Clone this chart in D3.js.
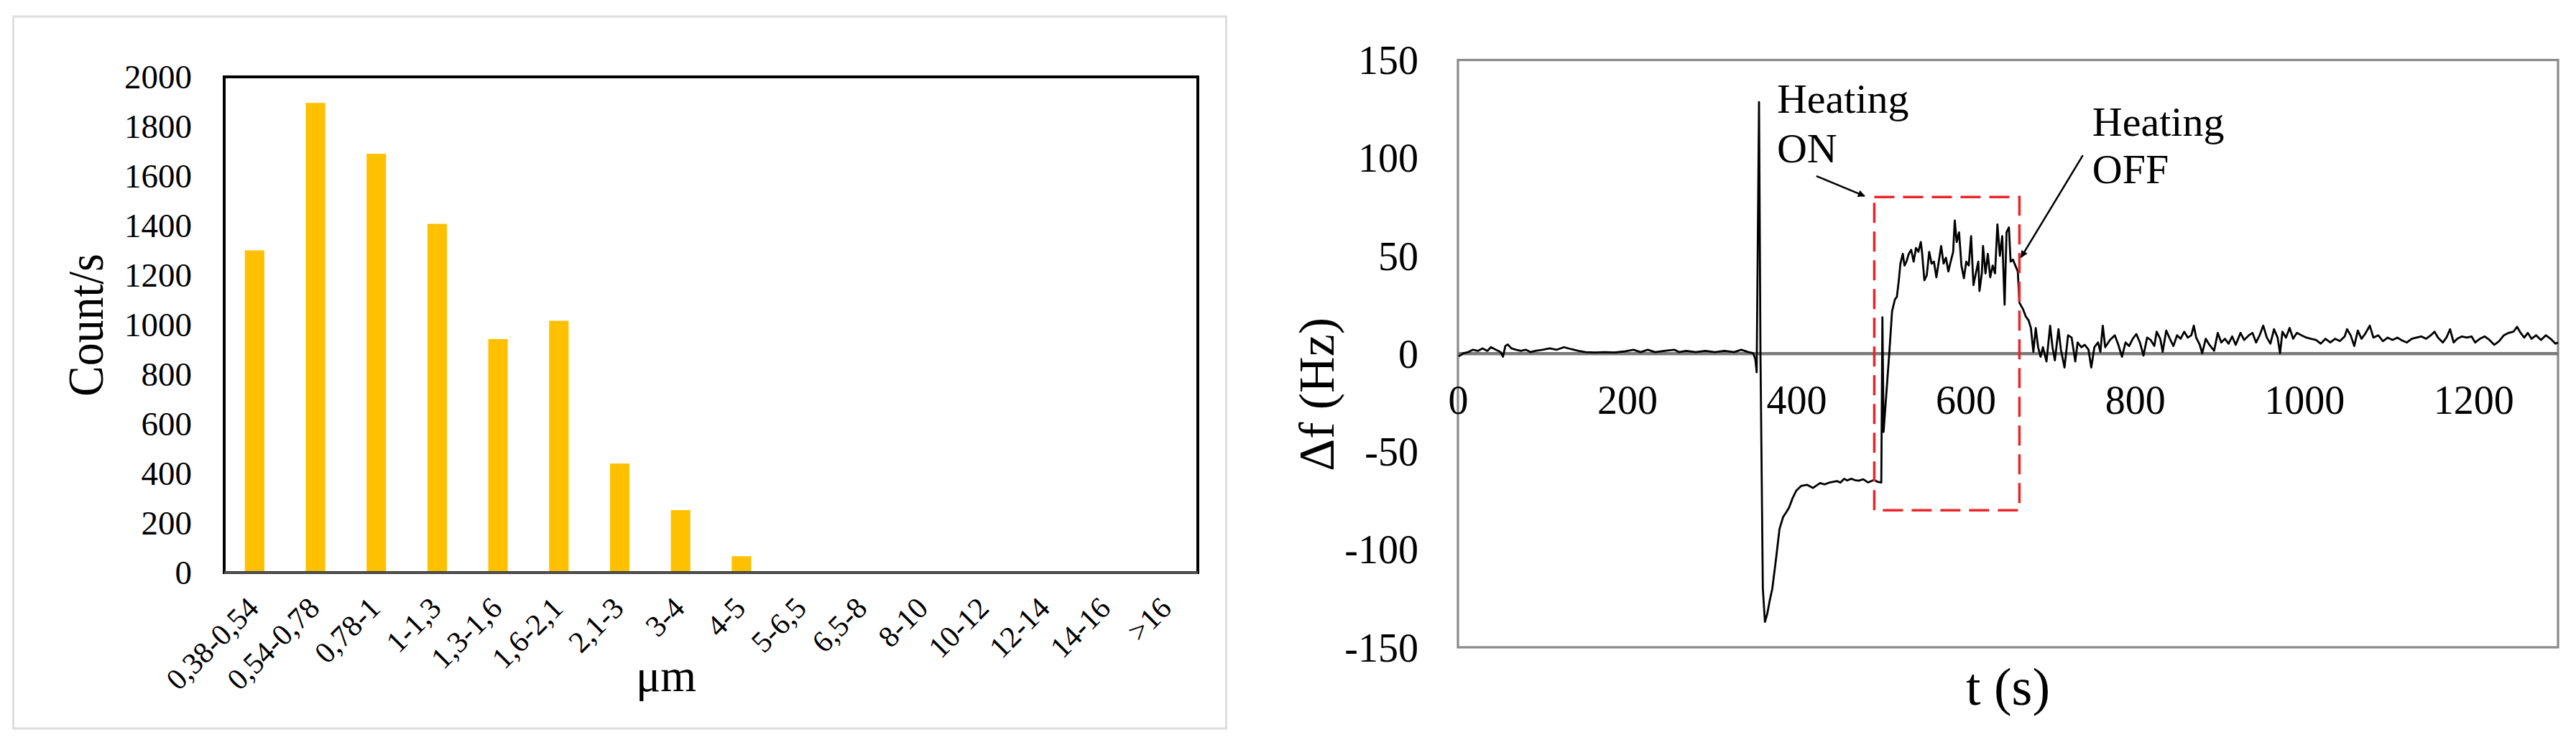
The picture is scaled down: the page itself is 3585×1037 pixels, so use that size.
<!DOCTYPE html>
<html>
<head>
<meta charset="utf-8">
<script src="https://cdn.jsdelivr.net/npm/d3@7"></script>
<style>
  html, body { margin: 0; padding: 0; background: #ffffff; }
  svg { display: block; }
  text { font-family: "Liberation Serif", "Times New Roman", serif; fill: #000; }
</style>
</head>
<body>
<svg id="chart" width="3585" height="1037"></svg>
<script>
// ---------------- DATA ----------------
// Left panel: particle size distribution
const sizeCategories = ["0,38-0,54","0,54-0,78","0,78-1","1-1,3","1,3-1,6","1,6-2,1","2,1-3","3-4","4-5","5-6,5","6,5-8","8-10","10-12","12-14","14-16",">16"];
const countValues = [1300,1895,1690,1407,942,1016,440,252,66,0,0,0,0,0,0,0];
const countTicks = [0,200,400,600,800,1000,1200,1400,1600,1800,2000];

// Right panel: frequency shift vs time
const timeValues = [
  0.8,6.5,12.2,17.8,23.5,29.1,34.8,39,44.7,50.4,53.2,56,58.9,63.1,68.8,74.4,80.1,85.7,91.4,99.9,
  108.4,116.8,125.3,133.8,142.3,150.8,162.1,173.5,184.8,196.1,207.4,215.9,224.4,232.9,244.2,255.5,261.2,269.7,281,292.3,
  303.7,315,326.3,334.8,343.3,349,351.5,353,355.8,357.5,360.3,362.8,365.5,368.5,371.5,375.7,380,384.2,388,391.3,
  395.6,399.8,405.5,412.5,419.6,428,433,439.4,447.9,452,456.4,460,464.9,469,473.4,479,484.7,491.8,496,500.3,
  501.6,503,506,510,513,516.4,518.7,521,522.9,525.7,527.7,530,532.8,535.6,538.5,541.3,544.1,547,548.4,551.2,
  554,556.9,559.7,562.5,565.4,568.2,571,573.9,576.7,579.5,582.3,585.2,587.1,589.4,592.2,595,597.9,600.7,603.6,606.4,
  609.2,612,614.9,616.3,619.1,620.5,623.4,626.2,629,631.9,634.7,637.5,640.4,643.2,646,648.3,651.1,653.1,655.9,658.7,
  661.6,663.5,668,671,674.3,677.1,680,682.8,685.6,688.5,691.3,695.5,699.8,702.6,705.4,709.7,712.5,716.8,721,725.2,
  729.5,732.3,736.6,740.8,745.1,748.4,752.1,756.4,759.2,762,764.9,770.5,776.2,780.4,784.7,788.9,793.2,797.4,801.7,805.9,
  810.1,814.4,818.6,822.9,825.7,829.9,832.8,837,841.3,845.5,849.8,854,858.3,862.5,866.7,869.6,872.4,876.6,879.5,883.7,
  888,893.6,897.9,902.1,906.4,910.6,914.9,919.1,924.8,929,934.7,938.9,943.2,947.4,951.6,955.9,960.1,964.4,968.6,971.5,
  974.3,978.5,982.8,987,991.3,996.9,1002.6,1008.2,1013.9,1019.6,1025.2,1030.9,1036.5,1042.2,1047.9,1050.7,1054.9,1059.2,1063.4,1067.7,
  1071.9,1077.6,1081.8,1087.5,1093.1,1098.8,1104.4,1110.1,1115.8,1121.4,1127.1,1132.7,1138.4,1144,1149.7,1154,1158.2,1163.9,1168.1,1172.4,
  1176.6,1180.9,1186.5,1192.2,1197.8,1202.1,1207.7,1213.4,1219,1224.7,1230.4,1236,1241.7,1247.3,1251.6,1255.8,1260.1,1264.3,1268.6,1274.2,
  1279.9,1285.5,1291.2,1296.9,1300
];
const deltaFValues = [
  -1.4,0.2,0.8,2,1.4,2.7,1.4,3.3,2,0.8,-1.6,3.9,4.7,2.7,2,1.4,2,0.8,1.4,2,
  2.7,2,3.3,2.3,1.4,0.8,0.6,0.8,0.6,1.1,2,0.8,2,0.8,1.4,2,0.8,1.4,0.8,1.4,
  0.8,1.4,0.8,2,0.8,0.2,-3,-9.5,128.5,0,-120,-137,-133,-126,-120,-105.5,-89.6,-83.5,-81,-78.6,
  -73.7,-70,-67.6,-67,-68.6,-66.1,-66.8,-65.8,-65.1,-65.9,-63.9,-64.8,-63.9,-64.6,-64.9,-64.2,-65.8,-64.5,-65.5,-65.8,
  18.6,-40,-22,2,21.6,27.7,29,37.5,46,51,45,47,51,53,47,54,52,57,52,37.5,
  40,52,46,47,39,47,55,46,49,42,47,52,68,57,62,45,38.5,47,45,60,
  35,41,47,32,41,55,41,51,39,45,41,66,50,60,25,62,64.5,47,48,45,
  42,26,22.5,19,17,13.1,0.9,13.1,3.3,-1.6,3.3,-4,14.3,3.3,-3.4,12.5,2.1,-7.1,9.4,8.2,
  -4,5.7,3.3,4.5,2.1,-7.1,3.3,5.7,0.9,14.3,3.3,7,9.4,4.5,-1.6,5.7,3.9,7.6,10,5.7,
  -1,8.2,7,3.9,11.2,7.6,0.9,11.8,7.6,3.9,9.4,7.6,11.2,8.2,9.4,14.3,8.2,4.5,0.2,7.6,
  4.5,1.5,10.6,5.7,7.6,5.1,8.8,4.5,10.6,7,9.4,10.6,5.7,9.4,14.3,8.2,5.1,12.5,8.2,0.2,
  11.2,8.2,13.1,7.6,10.6,9.4,8.2,7.6,7,5.1,7.6,5.7,7.6,6.4,8.8,12.5,9.4,3.9,11.8,7.6,
  10,14.3,8.2,9.4,6.4,8.2,7,8.2,6.7,5.7,7.6,8.2,8.8,7.6,9.4,11.2,8.2,5.7,8.2,12.5,
  5.7,7.6,8.8,8.2,8.8,5.7,7.6,8.8,7,4.5,6.4,9.4,10.6,11.2,13.7,10.6,8.2,10.6,7.6,9.4,
  7,9.4,7.6,5.1,5.7
];
const timeTicks = [0,200,400,600,800,1000,1200];
const freqTicks = [-150,-100,-50,0,50,100,150];
const heatingBoxTime = [492, 663.5];   // heating ON / OFF (s)
const heatingBoxFreq = [-80, 80];      // Hz extent of dashed box
const annotationLabels = [["Heating","ON"],["Heating","OFF"]];
const annotationTextPos = [[377, 123, 97.7],[749.6, 111.4, 87]];        // t, f(line1), f(line2)
const annotationArrows = [[423.6, 90.7, 480.5, 80.5],[738.5, 101.3, 665.5, 49.2]]; // t0,f0,t1,f1

// ---------------- LAYOUT ----------------
const svg = d3.select("#chart");
const serif = '"Liberation Serif", "Times New Roman", serif';

const L = { left: 312, right: 1667, top: 107, bottom: 797 };
const R = { left: 2029, right: 3560, top: 83.5, bottom: 901 };

// ---------- Left panel ----------
svg.append("rect")
  .attr("x", 18.5).attr("y", 23).attr("width", 1688).attr("height", 991)
  .attr("fill", "none").attr("stroke", "#dedede").attr("stroke-width", 3);

const xBand = d3.scaleBand().domain(sizeCategories)
  .range([L.left, L.right]).paddingInner(0.68).paddingOuter(0.34);
const yCount = d3.scaleLinear().domain([0, 2000]).range([L.bottom, L.top]);

const gL = svg.append("g");
gL.selectAll("rect.bar").data(sizeCategories).join("rect")
  .attr("class", "bar")
  .attr("x", d => xBand(d))
  .attr("width", xBand.bandwidth())
  .attr("y", (d, i) => yCount(countValues[i]))
  .attr("height", (d, i) => yCount(0) - yCount(countValues[i]))
  .attr("fill", "#FFC000");

// frame
gL.append("rect")
  .attr("x", L.left).attr("y", L.top)
  .attr("width", L.right - L.left).attr("height", L.bottom - L.top)
  .attr("fill", "none").attr("stroke", "#000").attr("stroke-width", 4);
gL.append("line")
  .attr("x1", L.left).attr("x2", L.right).attr("y1", L.bottom).attr("y2", L.bottom)
  .attr("stroke", "#505050").attr("stroke-width", 3.5);

// y axis labels
const yAxisL = d3.axisLeft(yCount).tickValues(countTicks).tickSize(0).tickPadding(0).tickFormat(d3.format("d"));
const gyL = gL.append("g").attr("transform", `translate(267,0)`).call(yAxisL);
gyL.select(".domain").remove();
gyL.selectAll("text").attr("font-family", serif).attr("font-size", 47).attr("fill", "#000")
  .attr("dy", "0.34em");

// x axis labels, rotated
const xAxisL = d3.axisBottom(xBand).tickSize(0).tickPadding(0);
const gxL = gL.append("g").attr("transform", `translate(0,${L.bottom})`).call(xAxisL);
gxL.select(".domain").remove();
gxL.selectAll("text").attr("font-family", serif).attr("font-size", 42).attr("fill", "#000")
  .attr("x", 0).attr("y", 0).attr("dy", null)
  .attr("text-anchor", "end")
  .attr("transform", "translate(8,52) rotate(-45)");

// axis titles
gL.append("text")
  .attr("transform", "translate(143,452.5) rotate(-90)")
  .attr("text-anchor", "middle").attr("font-size", 70)
  .attr("textLength", 199).attr("lengthAdjust", "spacingAndGlyphs")
  .text("Count/s");
gL.append("text")
  .attr("x", 927).attr("y", 962).attr("text-anchor", "middle").attr("font-size", 64)
  .text("μm");

// ---------- Right panel ----------
const xT = d3.scaleLinear().domain([0, 1300]).range([R.left, R.right]);
const yF = d3.scaleLinear().domain([-150, 150]).range([R.bottom, R.top]);
const gR = svg.append("g");

gR.append("rect")
  .attr("x", R.left).attr("y", R.top)
  .attr("width", R.right - R.left).attr("height", R.bottom - R.top)
  .attr("fill", "none").attr("stroke", "#8a8a8a").attr("stroke-width", 3.2);

// zero line axis
gR.append("line")
  .attr("x1", xT(0)).attr("x2", xT(1300)).attr("y1", yF(0)).attr("y2", yF(0))
  .attr("stroke", "#7a7a7a").attr("stroke-width", 4.5);

// y labels
const yAxisR = d3.axisLeft(yF).tickValues(freqTicks).tickSize(0).tickPadding(0).tickFormat(d => String(d));
const gyR = gR.append("g").attr("transform", `translate(1974,0)`).call(yAxisR);
gyR.select(".domain").remove();
gyR.selectAll("text").attr("font-family", serif).attr("font-size", 56).attr("fill", "#000").attr("dy", "0.34em");

// x labels under zero line
const xAxisR = d3.axisBottom(xT).tickValues(timeTicks).tickSize(0).tickPadding(0).tickFormat(d => String(d));
const gxR = gR.append("g").attr("transform", `translate(0,${yF(0)})`).call(xAxisR);
gxR.select(".domain").remove();
gxR.selectAll("text").attr("font-family", serif).attr("font-size", 56).attr("fill", "#000")
  .attr("y", 84).attr("dy", null);

// data line
const pts = timeValues.map((t, i) => [t, deltaFValues[i]]);
gR.append("path")
  .datum(pts)
  .attr("fill", "none").attr("stroke", "#000").attr("stroke-width", 2.8)
  .attr("stroke-linejoin", "round")
  .attr("d", d3.line().x(d => xT(d[0])).y(d => yF(d[1])));

// heating dashed box
gR.append("rect")
  .attr("x", xT(heatingBoxTime[0])).attr("y", yF(heatingBoxFreq[1]))
  .attr("width", xT(heatingBoxTime[1]) - xT(heatingBoxTime[0]))
  .attr("height", yF(heatingBoxFreq[0]) - yF(heatingBoxFreq[1]))
  .attr("fill", "none").attr("stroke", "#e8262b").attr("stroke-width", 3.5)
  .attr("stroke-dasharray", "28,12");

// arrows
const defs = svg.append("defs");
defs.append("marker").attr("id", "arrow")
  .attr("viewBox", "0 0 10 10").attr("refX", 9).attr("refY", 5)
  .attr("markerWidth", 14).attr("markerHeight", 10).attr("markerUnits", "userSpaceOnUse")
  .attr("orient", "auto")
  .append("path").attr("d", "M0,0 L10,5 L0,10 z").attr("fill", "#000");

gR.selectAll("line.arrow").data(annotationArrows).join("line")
  .attr("class", "arrow")
  .attr("x1", d => xT(d[0])).attr("y1", d => yF(d[1]))
  .attr("x2", d => xT(d[2])).attr("y2", d => yF(d[3]))
  .attr("stroke", "#000").attr("stroke-width", 2.5)
  .attr("marker-end", "url(#arrow)");

annotationLabels.forEach((lines, i) => {
  const p = annotationTextPos[i];
  lines.forEach((s, j) => {
    gR.append("text")
      .attr("x", xT(p[0])).attr("y", yF(p[1 + j]))
      .attr("font-size", 58).text(s);
  });
});

// axis titles
gR.append("text")
  .attr("transform", "translate(1856,549) rotate(-90)")
  .attr("text-anchor", "middle").attr("font-size", 70)
  .text("Δf (Hz)");
gR.append("text")
  .attr("x", (R.left + R.right) / 2).attr("y", 981).attr("text-anchor", "middle").attr("font-size", 74)
  .text("t (s)");
</script>
</body>
</html>
